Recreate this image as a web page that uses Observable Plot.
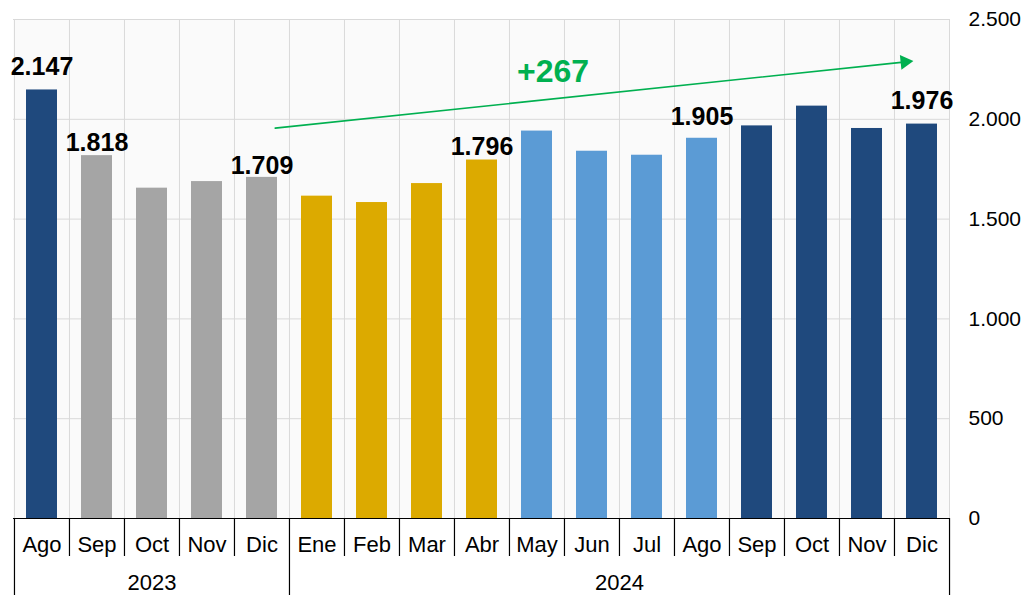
<!DOCTYPE html>
<html>
<head>
<meta charset="utf-8">
<script src="https://cdn.jsdelivr.net/npm/d3@7"></script>
<script src="https://cdn.jsdelivr.net/npm/@observablehq/plot@0.6"></script>
<style>
  html, body { margin: 0; padding: 0; background: #ffffff; }
  #chart { width: 1027px; height: 595px; }
</style>
</head>
<body>
<div id="chart"></div>
<script>
// ---------------- DATA ----------------
const months = ["Ago", "Sep", "Oct", "Nov", "Dic", "Ene", "Feb", "Mar", "Abr", "May", "Jun", "Jul", "Ago", "Sep", "Oct", "Nov", "Dic"];
const years  = [2023, 2023, 2023, 2023, 2023, 2024, 2024, 2024, 2024, 2024, 2024, 2024, 2024, 2024, 2024, 2024, 2024];
const values = [2147, 1818, 1655, 1688, 1709, 1615, 1583, 1678, 1796, 1941, 1840, 1820, 1905, 1967, 2066, 1954, 1976];
const series = ["a", "b", "b", "b", "b", "c", "c", "c", "c", "d", "d", "d", "d", "e", "e", "e", "e"];
const seriesNames  = ["a", "b", "c", "d", "e"];
const seriesColors = ["#1f497d", "#a5a5a5", "#dcaa00", "#5b9bd5", "#1f497d"];
const yTicks = [0, 500, 1000, 1500, 2000, 2500];
const labelledKeys = ["Ago 2023", "Sep 2023", "Dic 2023", "Abr 2024", "Ago 2024", "Dic 2024"];
const trendFrom = { key: "Dic 2023", value: 1949 };
const trendTo   = { key: "Dic 2024", value: 2296 };
const trendText = "+267";
const trendTextAt = { key: "May 2024", value: 2240 };

// ---------------- LAYOUT ----------------
const W = 1027, H = 595, mL = 13, mR = 78, mT = 19, mB = 77;
const plotH = H - mT - mB;
const step = (W - mL - mR) / months.length;
const font = "'Liberation Sans', Arial, Helvetica, sans-serif";
// gap between label baseline and bar top (manual placement in the original)
const labelGap = {"Ago 2023": 15, "Sep 2023": 5, "Dic 2023": 3, "Abr 2024": 5, "Ago 2024": 13, "Dic 2024": 15};

const data = months.map((m, i) => ({
  key: `${m} ${years[i]}`, month: m, year: years[i], value: values[i], series: series[i]
}));
const fmt = d3.formatLocale({decimal: ",", thousands: ".", grouping: [3], currency: ["", "€"]}).format(",d");

const boundaries = data.map((d, i) => ({key: d.key, long: i === 0 || d.year !== data[i - 1].year}));
const last = data[data.length - 1];

const yearGroups = d3.groups(data, d => d.year).map(([year, items]) => {
  const mid = (items.length - 1) / 2;
  const idx = Math.floor(mid);
  return {year, key: items[idx].key, dx: (mid - idx) * step};
});

const green = "#00b050";
const gridColor = "#d9d9d9";

const marks = [
  Plot.frame({fill: "#fafafa", stroke: "none"}),
  Plot.ruleY(yTicks, {stroke: gridColor, strokeWidth: 1}),
  Plot.ruleX(data, {x: "key", dx: -step / 2, stroke: gridColor, strokeWidth: 1}),
  Plot.ruleX([last], {x: "key", dx: step / 2, stroke: gridColor, strokeWidth: 1}),
  Plot.barY(data, {x: "key", y: "value", fill: "series"}),
  Plot.ruleY([0], {stroke: "#000", strokeWidth: 1}),
  // category separators below the axis
  Plot.ruleX(boundaries.filter(b => !b.long), {x: "key", dx: -step / 2, stroke: "#000", strokeWidth: 1.2, insetTop: plotH, insetBottom: -38}),
  Plot.ruleX(boundaries.filter(b => b.long), {x: "key", dx: -step / 2, stroke: "#000", strokeWidth: 1.2, insetTop: plotH, insetBottom: -mB}),
  Plot.ruleX([last], {x: "key", dx: step / 2, stroke: "#000", strokeWidth: 1.2, insetTop: plotH, insetBottom: -mB}),
  Plot.text(data, {x: "key", y: 0, text: "month", dy: 26, fontSize: 22, fill: "#000", lineAnchor: "middle"}),
  ...yearGroups.map(g => Plot.text([g], {x: "key", y: () => 0, text: d => String(d.year), dx: g.dx, dy: 64, fontSize: 22, fill: "#000", lineAnchor: "middle"})),
  // value labels
  ...data.filter(d => labelledKeys.includes(d.key)).map(d =>
    Plot.text([d], {x: "key", y: "value", text: v => fmt(v.value), dy: -(labelGap[d.key] + 8), fontSize: 25, fontWeight: "bold", fill: "#000", lineAnchor: "middle"})
  ),
  // trend arrow
  Plot.arrow([{}], {
    x1: () => trendFrom.key, y1: () => trendFrom.value,
    x2: () => trendTo.key, y2: () => trendTo.value,
    stroke: green, strokeWidth: 1.6, headLength: 0, insetStart: 13.3, insetEnd: 21
  }),
  Plot.dot([trendTo], {x: "key", y: "value", symbol: "triangle", r: 5.5, fill: green, stroke: "none", rotate: 84, dx: -17.1, dy: 1.8}),
  Plot.text([trendTextAt], {x: "key", y: "value", text: () => trendText, dx: 16, fontSize: 32, fontWeight: "bold", fill: green, lineAnchor: "middle"}),
  Plot.axisY(yTicks, {anchor: "right", tickSize: 0, tickPadding: 19, tickFormat: fmt, fontSize: 21, fill: "#000", label: null})
];

const chart = Plot.plot({
  width: W, height: H,
  marginLeft: mL, marginRight: mR, marginTop: mT, marginBottom: mB,
  style: {fontFamily: font, background: "#ffffff", color: "#000", overflow: "visible"},
  x: {domain: data.map(d => d.key), paddingInner: 0.44, paddingOuter: 0.22, axis: null},
  y: {domain: [0, 2500], axis: null},
  color: {domain: seriesNames, range: seriesColors},
  marks
});
document.getElementById("chart").appendChild(chart);
</script>
</body>
</html>
